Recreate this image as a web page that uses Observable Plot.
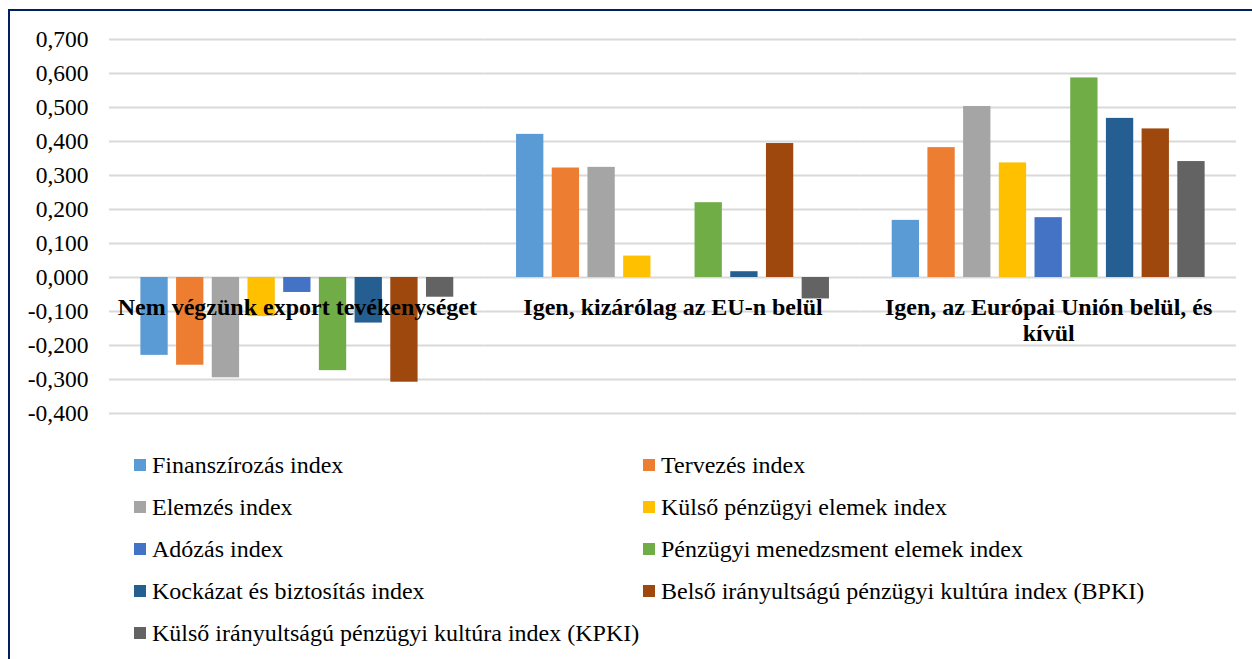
<!DOCTYPE html>
<html>
<head>
<meta charset="utf-8">
<script src="https://cdn.jsdelivr.net/npm/d3@7"></script>
<script src="https://cdn.jsdelivr.net/npm/@observablehq/plot@0.6"></script>
<style>
  html, body { margin: 0; padding: 0; background: #fff; overflow: hidden; }
  #frame { position: absolute; left: 8px; top: 9px; width: 3000px; height: 3000px;
           border-left: 2.5px solid #002060; border-top: 2.5px solid #002060; pointer-events: none; }
  #chart svg { display: block; }
  #legend { position: relative; width: 1252px; height: 219px; color: #000; }
  .item { position: absolute; display: flex; align-items: center; height: 42px; white-space: nowrap;
          font-family: 'Liberation Serif', 'Times New Roman', serif; font-size: 24px; }
  .sw { width: 12px; height: 12px; margin-right: 6px; flex: none; }
</style>
</head>
<body>
<div id="chart"></div>
<div id="legend"></div>
<div id="frame"></div>
<script>
const categories = [
  "Nem végzünk export tevékenységet",
  "Igen, kizárólag az EU-n belül",
  "Igen, az Európai Unión belül, és kívül"
];
const categoryLabels = [
  "Nem végzünk export tevékenységet",
  "Igen, kizárólag az EU-n belül",
  "Igen, az Európai Unión belül, és\nkívül"
];
const series = [
  "Finanszírozás index",
  "Tervezés index",
  "Elemzés index",
  "Külső pénzügyi elemek index",
  "Adózás index",
  "Pénzügyi menedzsment elemek index",
  "Kockázat és biztosítás index",
  "Belső irányultságú pénzügyi kultúra index (BPKI)",
  "Külső irányultságú pénzügyi kultúra index (KPKI)"
];
const colors = ["#5B9BD5", "#ED7D31", "#A5A5A5", "#FFC000", "#4472C4", "#70AD47", "#255E91", "#9E480E", "#636363"];

const finanszirozas = [-0.229, 0.421, 0.168];
const tervezes      = [-0.258, 0.322, 0.382];
const elemzes       = [-0.295, 0.324, 0.503];
const kulsoPenzugyi = [-0.115, 0.063, 0.337];
const adozas        = [-0.044, 0.000, 0.176];
const menedzsment   = [-0.274, 0.220, 0.587];
const kockazat      = [-0.134, 0.017, 0.468];
const bpki          = [-0.308, 0.394, 0.437];
const kpki          = [-0.058, -0.063, 0.341];
const seriesValues = [finanszirozas, tervezes, elemzes, kulsoPenzugyi, adozas, menedzsment, kockazat, bpki, kpki];

const yTicks = [-0.4, -0.3, -0.2, -0.1, 0, 0.1, 0.2, 0.3, 0.4, 0.5, 0.6, 0.7];

const data = [];
categories.forEach((c, ci) => {
  series.forEach((s, si) => {
    data.push({cat: c, series: s, value: seriesValues[si][ci]});
  });
});

const fmt = d => (Math.abs(d) < 1e-9 ? 0 : d).toFixed(3).replace(".", ",");

const chart = Plot.plot({
  width: 1252,
  height: 440,
  marginLeft: 109,
  marginRight: 16,
  marginTop: 39,
  marginBottom: 27,
  style: {fontFamily: "'Liberation Serif', 'Times New Roman', serif", fontSize: "23.5px", color: "#000", background: "transparent"},
  fx: {domain: categories, padding: 0, round: false, axis: null},
  x: {domain: series, paddingInner: 0.235, paddingOuter: 0.879, round: false, axis: null},
  y: {domain: [-0.4, 0.7], ticks: yTicks, tickFormat: fmt, tickSize: 0, tickPadding: 21, label: null},
  color: {domain: series, range: colors},
  marks: [
    Plot.ruleY(yTicks, {stroke: "#d9d9d9", strokeWidth: 2}),
    Plot.barY(data, {fx: "cat", x: "series", y: "value", fill: "series", inset: 0}),
    Plot.text(categories, {
      fx: d => d, y: () => 0, text: (d, i) => categoryLabels[i],
      lineAnchor: "top", dy: 19, lineHeight: 1.083,
      fontSize: 24, fontWeight: "bold", fill: "#000"
    })
  ]
});
document.getElementById("chart").appendChild(chart);

const legend = document.getElementById("legend");
series.forEach((s, i) => {
  const row = Math.floor(i / 2), col = i % 2;
  const item = document.createElement("div");
  item.className = "item";
  item.style.left = (col === 0 ? 134 : 643) + "px";
  item.style.top = (4 + row * 42) + "px";
  const sw = document.createElement("span");
  sw.className = "sw";
  sw.style.background = colors[i];
  const t = document.createElement("span");
  t.textContent = s;
  item.appendChild(sw);
  item.appendChild(t);
  legend.appendChild(item);
});
</script>
</body>
</html>
